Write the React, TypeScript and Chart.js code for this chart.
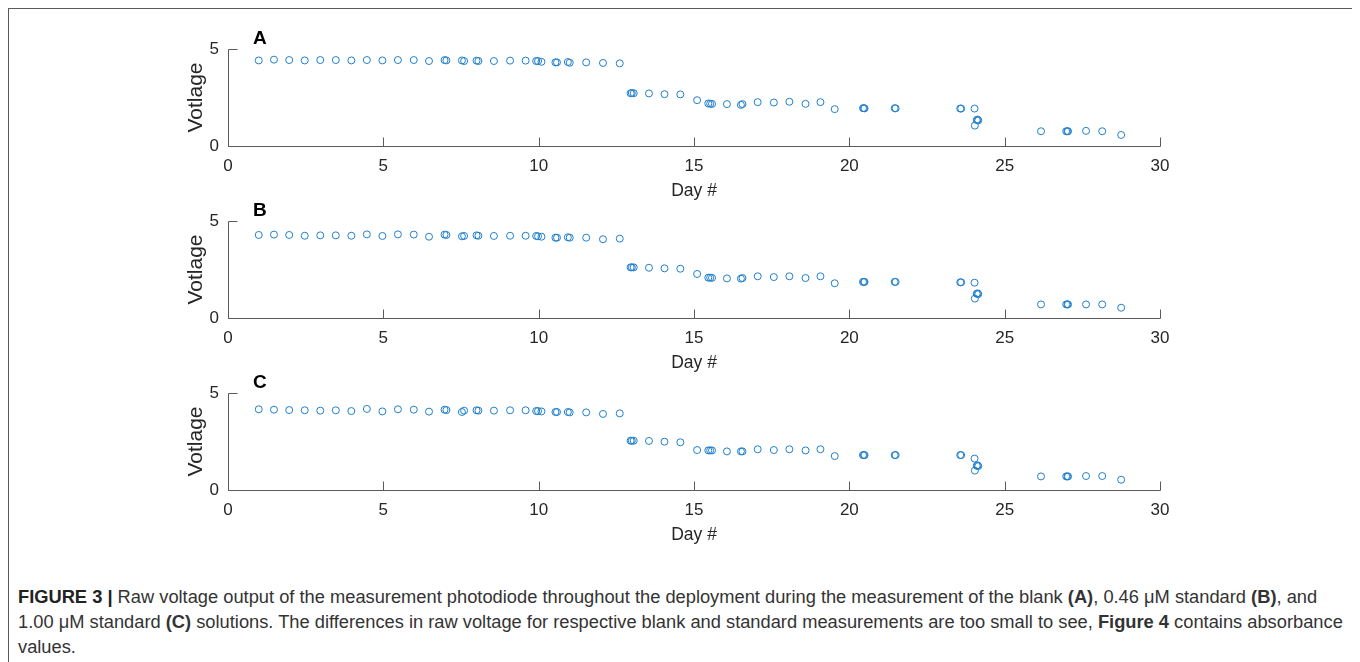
import React, { useEffect, useRef } from "react";
import { Chart, registerables } from "chart.js";

Chart.register(...registerables);

// ---- data -------------------------------------------------------------
const days = [
  0.99, 1.48, 1.97, 2.47, 2.97, 3.47, 3.97, 4.47, 4.97, 5.47, 5.98, 6.47,
  6.97, 7.03, 7.53, 7.6, 8.0, 8.06, 8.56, 9.08, 9.58, 9.92, 9.98, 10.09,
  10.54, 10.59, 10.94, 11.0, 11.53, 12.07, 12.61, 12.96, 13.0, 13.06, 13.55,
  14.05, 14.56, 15.1, 15.46, 15.52, 15.58, 16.06, 16.51, 16.56, 17.05, 17.57,
  18.07, 18.59, 19.07, 19.53, 20.44, 20.47, 20.49, 21.46, 21.49, 23.57, 23.6,
  24.03, 24.04, 24.1, 24.13, 24.15, 26.17, 26.98, 27.02, 27.04, 27.62, 28.14,
  28.75,
];

const voltageBlank = [
  4.41, 4.45, 4.43, 4.41, 4.43, 4.43, 4.41, 4.43, 4.41, 4.43, 4.43, 4.38,
  4.43, 4.41, 4.41, 4.38, 4.4, 4.38, 4.38, 4.4, 4.4, 4.38, 4.38, 4.34,
  4.31, 4.31, 4.33, 4.29, 4.31, 4.28, 4.26, 2.72, 2.73, 2.72, 2.71,
  2.67, 2.66, 2.36, 2.19, 2.18, 2.17, 2.16, 2.12, 2.16, 2.26, 2.24,
  2.28, 2.17, 2.26, 1.9, 1.95, 1.95, 1.94, 1.95, 1.94, 1.93, 1.93,
  1.93, 1.05, 1.34, 1.36, 1.32, 0.76, 0.76, 0.76, 0.76, 0.78, 0.76,
  0.57,
];

const voltageStd046 = [
  4.28, 4.3, 4.28, 4.24, 4.26, 4.26, 4.24, 4.31, 4.23, 4.31, 4.3, 4.19,
  4.3, 4.28, 4.21, 4.23, 4.26, 4.24, 4.23, 4.24, 4.24, 4.23, 4.21, 4.19,
  4.14, 4.14, 4.16, 4.14, 4.14, 4.06, 4.09, 2.61, 2.61, 2.61, 2.59,
  2.56, 2.54, 2.27, 2.08, 2.08, 2.07, 2.04, 2.03, 2.06, 2.15, 2.11,
  2.15, 2.06, 2.15, 1.79, 1.86, 1.86, 1.86, 1.86, 1.86, 1.84, 1.84,
  1.82, 1.0, 1.25, 1.27, 1.23, 0.7, 0.7, 0.7, 0.7, 0.7, 0.7,
  0.53,
];

const voltageStd100 = [
  4.16, 4.14, 4.12, 4.11, 4.09, 4.11, 4.07, 4.18, 4.05, 4.16, 4.14, 4.04,
  4.14, 4.12, 4.02, 4.09, 4.11, 4.09, 4.09, 4.11, 4.11, 4.07, 4.07, 4.05,
  4.02, 4.02, 4.02, 4.0, 4.0, 3.92, 3.95, 2.54, 2.54, 2.54, 2.53,
  2.49, 2.46, 2.06, 2.04, 2.04, 2.04, 1.99, 1.99, 1.99, 2.1, 2.06,
  2.1, 2.04, 2.1, 1.75, 1.8, 1.8, 1.8, 1.8, 1.8, 1.8, 1.8,
  1.62, 1.0, 1.25, 1.27, 1.23, 0.7, 0.7, 0.7, 0.7, 0.72, 0.72,
  0.53,
];

const xTicks = [0, 5, 10, 15, 20, 25, 30];
const yTicks = [0, 5];
const panelLetters = ["A", "B", "C"];
const xTitle = "Day #";
const yTitle = "Votlage";

// ---- styling ----------------------------------------------------------
const FONT = '"Liberation Sans", Arial, Helvetica, sans-serif';
const TEXT = "#262626";
const AXIS = "#5a5a5a";
const MARK = "#1f7fcc";

if (typeof document !== "undefined") {
  document.documentElement.style.overflow = "hidden";
  document.body.style.overflow = "hidden";
}

const matlabAxes = {
  id: "matlabAxes",
  beforeDatasetsDraw(chart: any) {
    const { ctx } = chart;
    const xs = chart.scales.x;
    const ys = chart.scales.y;
    const x0 = Math.round(xs.getPixelForValue(xTicks[0])) + 0.5;
    const x1 = Math.round(xs.getPixelForValue(xTicks[xTicks.length - 1])) + 0.5;
    const y0 = Math.round(ys.getPixelForValue(yTicks[0])) + 0.5;
    const y1 = Math.round(ys.getPixelForValue(yTicks[yTicks.length - 1])) + 0.5;
    const tl = 9;
    ctx.save();
    ctx.strokeStyle = AXIS;
    ctx.lineWidth = 1;
    ctx.beginPath();
    ctx.moveTo(x0, y1);
    ctx.lineTo(x0, y0);
    ctx.lineTo(x1, y0);
    xTicks.forEach((v) => {
      const px = Math.round(xs.getPixelForValue(v)) + 0.5;
      ctx.moveTo(px, y0);
      ctx.lineTo(px, y0 - tl);
    });
    yTicks.forEach((v) => {
      const py = Math.round(ys.getPixelForValue(v)) + 0.5;
      ctx.moveTo(x0, py);
      ctx.lineTo(x0 + tl, py);
    });
    ctx.stroke();
    ctx.restore();
  },
};

const CANVAS_W = 1050;
const CANVAS_H = 173;

function Panel({ values, top }: { values: number[]; top: number }) {
  const ref = useRef<HTMLCanvasElement | null>(null);
  useEffect(() => {
    if (!ref.current) return;
    const chart = new Chart(ref.current, {
      type: "scatter",
      data: {
        datasets: [
          {
            data: days.map((d, i) => ({ x: d, y: values[i] })),
            pointStyle: "circle",
            pointRadius: 3.5,
            pointBorderWidth: 1,
            pointBackgroundColor: "rgba(0,0,0,0)",
            pointBorderColor: MARK,
            showLine: false,
          } as any,
        ],
      },
      options: {
        animation: false,
        responsive: false,
        events: [],
        layout: { padding: { left: 0, right: 40, top: 20, bottom: 0 } },
        plugins: {
          legend: { display: false },
          tooltip: { enabled: false },
          title: { display: false },
        },
        scales: {
          x: {
            type: "linear",
            min: 0,
            max: 30,
            afterBuildTicks: (s: any) => {
              s.ticks = xTicks.map((v) => ({ value: v }));
            },
            grid: { display: false, drawTicks: false },
            border: { display: false },
            ticks: {
              padding: 10.3,
              color: TEXT,
              maxRotation: 0,
              font: { family: FONT, size: 17 },
            },
            title: {
              display: true,
              text: xTitle,
              color: TEXT,
              font: { family: FONT, size: 17.5 },
              padding: { top: 0, bottom: 0 },
            },
            afterFit: (s: any) => {
              s.height = 56;
            },
          },
          y: {
            type: "linear",
            min: 0,
            max: 5,
            afterBuildTicks: (s: any) => {
              s.ticks = yTicks.map((v) => ({ value: v }));
            },
            grid: { display: false, drawTicks: false },
            border: { display: false },
            ticks: {
              padding: 9,
              color: TEXT,
              font: { family: FONT, size: 17 },
            },
            title: {
              display: true,
              text: yTitle,
              color: TEXT,
              font: { family: FONT, size: 21 },
              padding: { top: 33.5, bottom: 0 },
            },
            afterFit: (s: any) => {
              s.width = 78;
            },
          },
        },
      } as any,
      plugins: [matlabAxes],
    });
    return () => chart.destroy();
  }, [values]);
  return (
    <canvas
      ref={ref}
      width={CANVAS_W}
      height={CANVAS_H}
      style={{
        position: "absolute",
        left: 150 - 9,
        top: top - 9,
        width: CANVAS_W,
        height: CANVAS_H,
      }}
    />
  );
}

const panelSeries = [voltageBlank, voltageStd046, voltageStd100];
const panelTops = [29.3, 201.3, 373.3];

export default function App() {
  return (
    <div
      style={{
        position: "relative",
        width: 1346,
        height: 700,
        borderTop: "1px solid #5a5a5a",
        borderLeft: "1px solid #5a5a5a",
        borderRight: "1px solid #5a5a5a",
        background: "#fff",
        fontFamily: FONT,
      }}
    >
      {panelSeries.map((vals, i) => (
        <Panel key={i} values={vals} top={panelTops[i]} />
      ))}
      {panelLetters.map((l, i) => (
        <div
          key={l}
          style={{
            position: "absolute",
            left: 253 - 9,
            top: panelTops[i] - 10.6,
            fontSize: 19,
            lineHeight: "19px",
            fontWeight: "bold",
            color: "#000",
          }}
        >
          {l}
        </div>
      ))}
      <div
        style={{
          position: "absolute",
          left: 18 - 9,
          top: 575.2,
          fontSize: 18.3,
          lineHeight: "25px",
          color: "#333",
          whiteSpace: "nowrap",
        }}
      >
        <div>
          <b style={{ color: "#222" }}>FIGURE 3 |</b> Raw voltage output of the
          measurement photodiode throughout the deployment during the
          measurement of the blank <b>(A)</b>, 0.46 μM standard <b>(B)</b>, and
        </div>
        <div>
          1.00 μM standard <b>(C)</b> solutions. The differences in raw voltage
          for respective blank and standard measurements are too small to see,{" "}
          <b>Figure 4</b> contains absorbance
        </div>
        <div>values.</div>
      </div>
    </div>
  );
}
